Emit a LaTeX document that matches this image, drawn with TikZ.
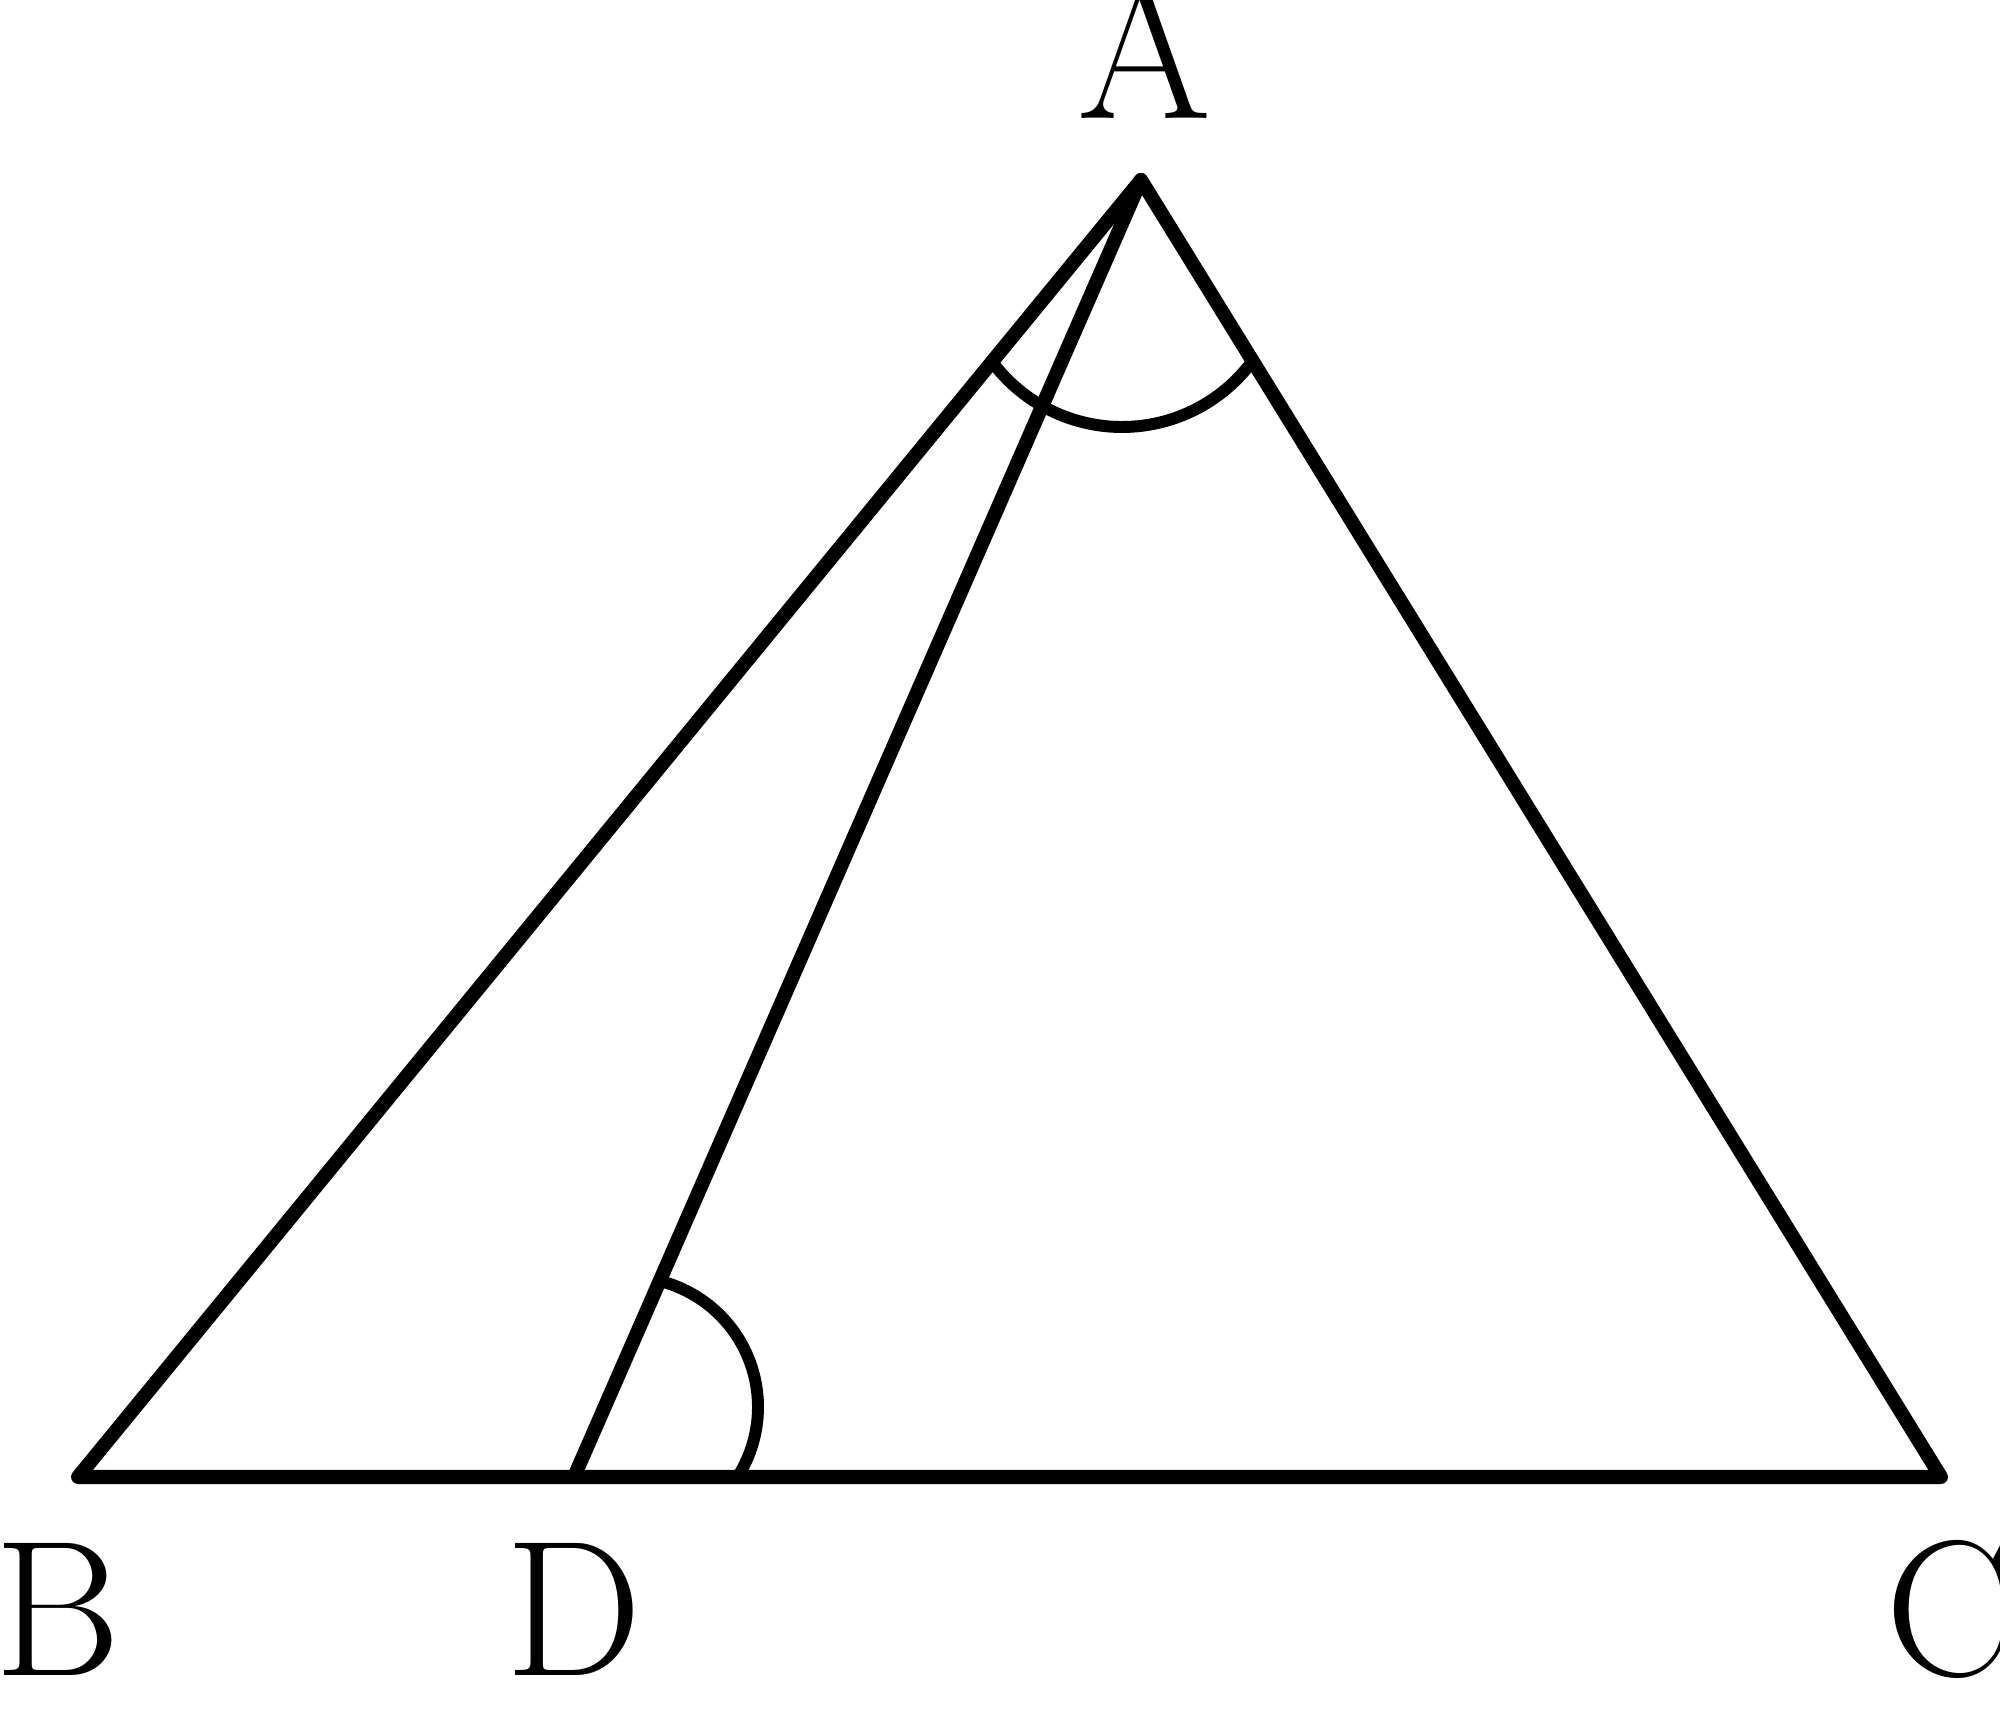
\documentclass[tikz,border=0pt]{standalone}
\begin{document}
\begin{tikzpicture}[x=0.01cm,y=0.01cm,
  edge/.style={line width=4pt,line join=round,line cap=round},
  anglemark/.style={line width=3.4pt},
  vlabel/.style={anchor=base,inner sep=0pt,font=\fontsize{55}{60}\selectfont}]
\useasboundingbox (0,0) rectangle (2000,-1712);
\coordinate (A) at (1141,-180);
\coordinate (B) at (78,-1477);
\coordinate (D) at (574,-1477);
\coordinate (C) at (1941,-1477);
\coordinate (Ac) at (1122,-265);
\coordinate (Dc) at (628,-1407);
\draw[edge] (B) -- (A) -- (C) -- cycle;
\draw[edge] (D) -- (A);
\draw[anglemark] ([shift={(217.2:162)}]Ac) arc[start angle=217.2,end angle=322.6,radius=162];
\draw[anglemark] ([shift={(75.9:130)}]Dc) arc[start angle=75.9,end angle=-32.6,radius=130];
\node[vlabel] (lA) at (1145,-118) {A};
\node[vlabel] (lB) at (58,-1675) {B};
\node[vlabel] (lD) at (574,-1675) {D};
\node[vlabel] (lC) at (1950,-1675) {C};
\end{tikzpicture}
\end{document}
